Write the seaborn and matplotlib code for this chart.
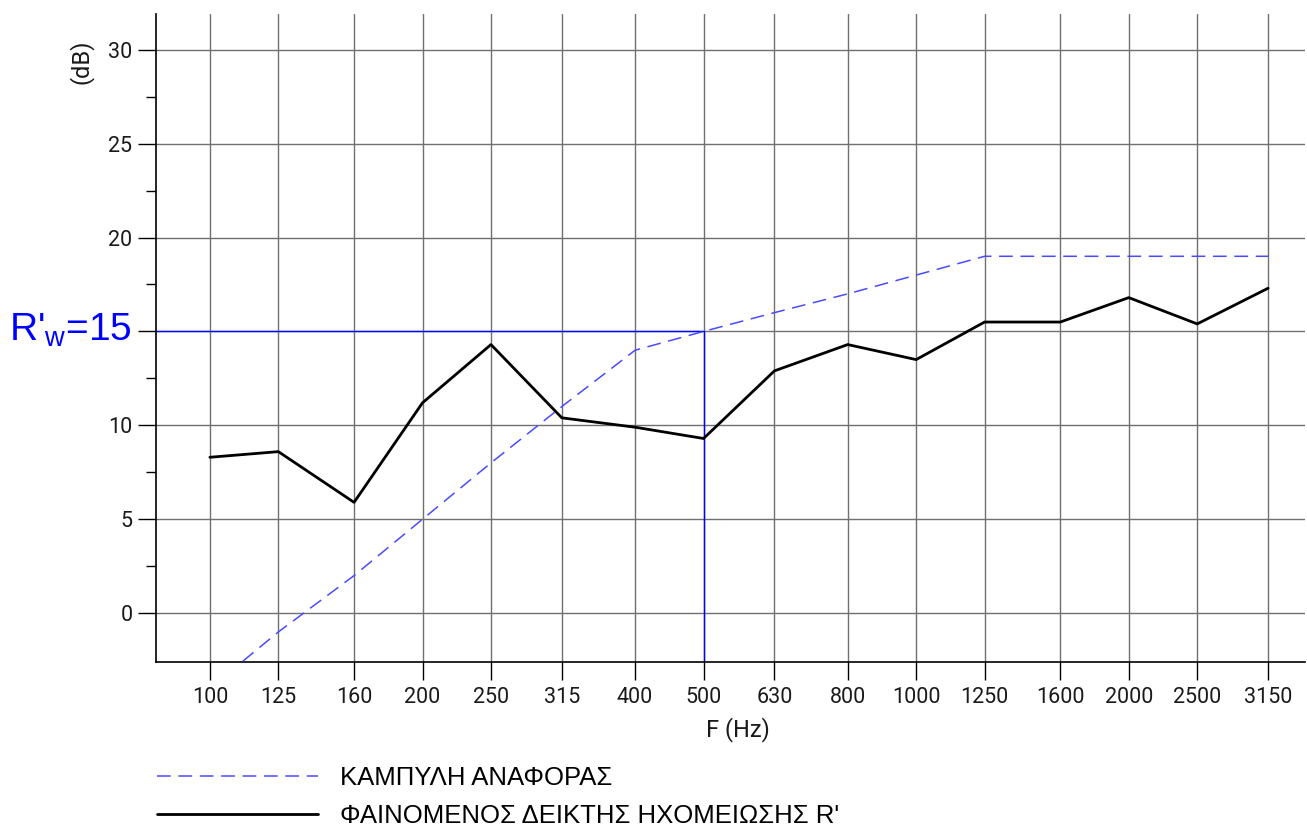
import matplotlib
matplotlib.use("Agg")
import matplotlib.pyplot as plt
import seaborn as sns
import pandas as pd
from matplotlib.ticker import FixedLocator, NullLocator, NullFormatter

# one-third octave bands (Hz)
freqs = [100, 125, 160, 200, 250, 315, 400, 500, 630, 800, 1000, 1250, 1600, 2000, 2500, 3150]
freq_labels = [str(f) for f in freqs]
# shifted ISO 717-1 reference curve (dB)
reference = [-4, -1, 2, 5, 8, 11, 14, 15, 16, 17, 18, 19, 19, 19, 19, 19]
# measured apparent sound reduction index R' (dB)
measured = [8.3, 8.6, 5.9, 11.2, 14.3, 10.4, 9.9, 9.3, 12.9, 14.3, 13.5, 15.5, 15.5, 16.8, 15.4, 17.3]
rw_value = 15
rw_freq = 500
y_ticks = [0, 5, 10, 15, 20, 25, 30]
y_labels = ["0", "5", "10", "", "20", "25", "30"]  # 15 is replaced by the R'w label
y_minor = [2.5, 7.5, 12.5, 17.5, 22.5, 27.5]

ref_label = "ΚΑΜΠΥΛΗ ΑΝΑΦΟΡΑΣ"
meas_label = "ΦΑΙΝΟΜΕΝΟΣ ΔΕΙΚΤΗΣ ΗΧΟΜΕΙΩΣΗΣ R'"

sns.set_style("white")
plt.rcParams["font.family"] = ["Roboto", "DejaVu Sans"]

df = pd.DataFrame({"freq": freqs, "reference": reference, "measured": measured})

fig = plt.figure(figsize=(13.07, 8.27), dpi=100)
ax = fig.add_axes([0.1194, 0.1995, 0.8791, 0.7836])

sns.lineplot(data=df, x="freq", y="reference", ax=ax, color="#4a4aff", lw=1.1,
             label=ref_label, zorder=3)
ax.lines[-1].set_dashes([9, 5])
sns.lineplot(data=df, x="freq", y="measured", ax=ax, color="black", lw=2,
             label=meas_label, zorder=4)

# R'w marker lines
ax.plot([80, rw_freq], [rw_value, rw_value], color="#0000ff", lw=1, zorder=2)
ax.plot([rw_freq, rw_freq], [-10, rw_value], color="#0000ff", lw=1, zorder=2)

ax.set_xscale("log")
ax.set_xlim(83.9, 3553)
ax.set_ylim(-2.6, 31.9)

ax.xaxis.set_major_locator(FixedLocator(freqs))
ax.set_xticklabels(freq_labels)
ax.xaxis.set_minor_locator(NullLocator())
ax.xaxis.set_minor_formatter(NullFormatter())
ax.set_yticks(y_ticks)
ax.set_yticklabels(y_labels)
ax.yaxis.set_minor_locator(FixedLocator(y_minor))

ax.grid(True, which="major", color="#707070", lw=1)
for s in ["top", "right"]:
    ax.spines[s].set_visible(False)
for s in ["left", "bottom"]:
    ax.spines[s].set_color("black")
    ax.spines[s].set_linewidth(1.2)

ax.tick_params(axis="both", which="major", direction="out", length=13, width=1,
               color="black", labelsize=15.5, labelcolor="#1a1a1a", left=True, bottom=True)
ax.tick_params(axis="y", which="minor", direction="out", length=7, width=1,
               color="black", left=True)
ax.tick_params(axis="x", pad=5)
ax.tick_params(axis="y", pad=4)

ax.set_xlabel("F (Hz)", fontsize=17, color="#1a1a1a")
ax.xaxis.set_label_coords(0.506, -0.085)
ax.set_ylabel("")
fig.text(0.062, 0.925, "(dB)", rotation=90, fontsize=17, color="#1a1a1a",
         ha="center", va="center")

fig.text(0.007, 0.60, r"R'$_\mathregular{w}$=15", fontsize=28, color="#0000ff",
         family=["Liberation Sans", "DejaVu Sans"], ha="left", va="center")

handles, labels = ax.get_legend_handles_labels()
ax.get_legend().remove()
fig.legend(handles, labels, loc="upper left", bbox_to_anchor=(0.110, 0.089),
           frameon=False, handlelength=6.3, handletextpad=0.85, borderpad=0,
           labelspacing=0.55, labelcolor="black",
           prop={"family": ["Liberation Sans", "DejaVu Sans"], "size": 18.5})

fig.savefig("out.png", dpi=100)
